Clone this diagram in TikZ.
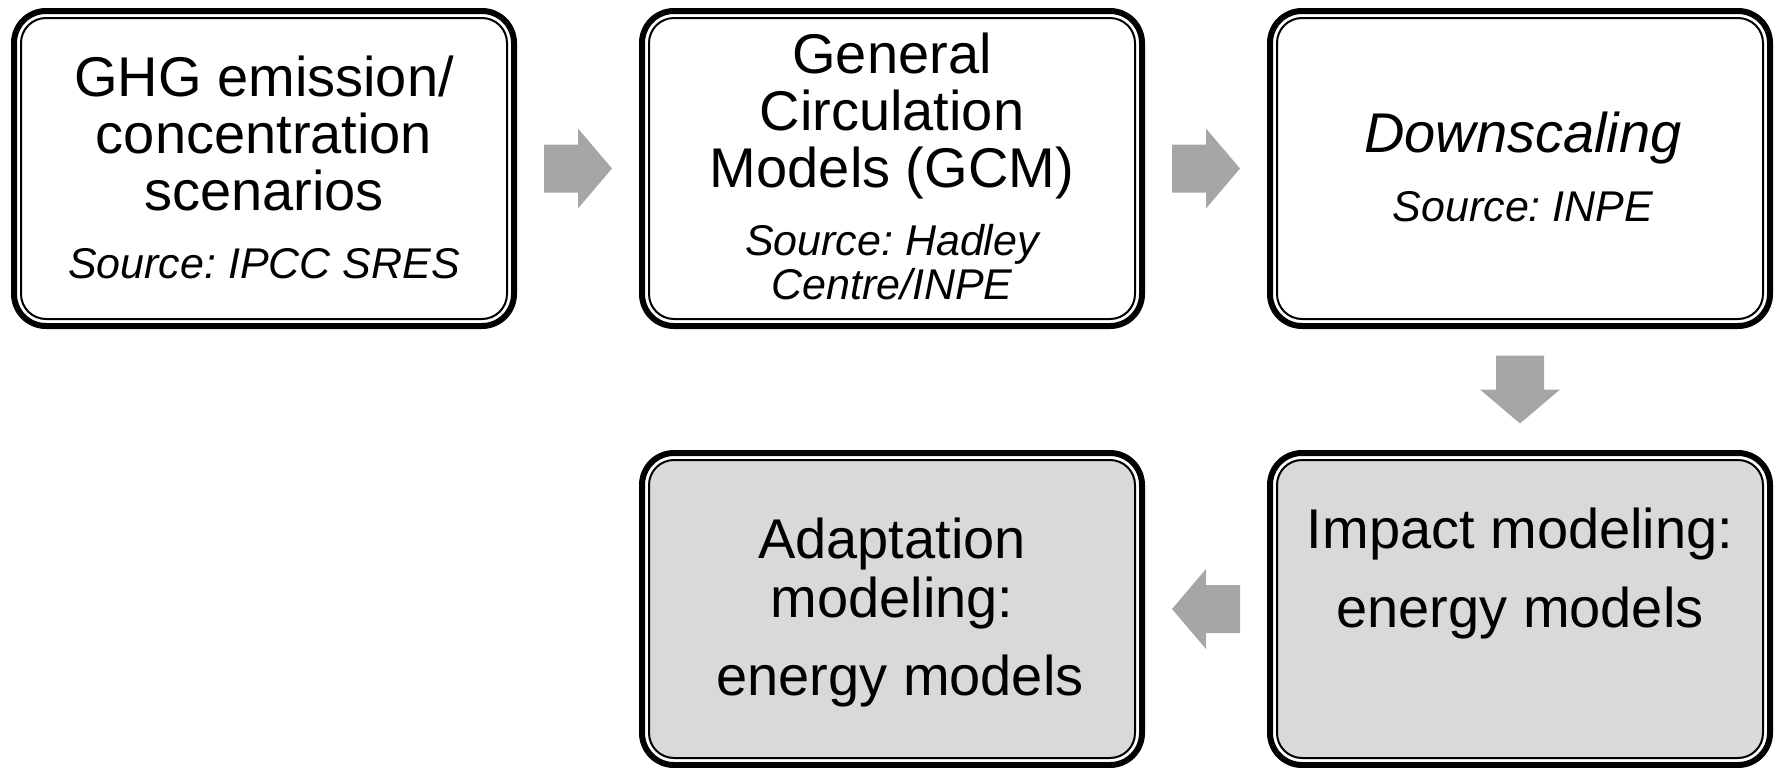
\documentclass[tikz,border=0pt]{standalone}
\usepackage{fontspec}
\setmainfont{Liberation Sans}
\usetikzlibrary{calc}
\definecolor{arrowgray}{RGB}{166,166,166}
\definecolor{boxgray}{RGB}{217,217,217}
\frenchspacing

\begin{document}
\begin{tikzpicture}[x=0.5pt,y=-0.5pt,
  box/.style={draw=black, line width=3pt, rounded corners=16pt, outer sep=0pt,
    minimum width=250pt, minimum height=157.5pt, inner sep=0pt, fill=white},
  lowbox/.style={box, minimum height=156pt},
  innerframe/.style={draw=black, line width=1pt, rounded corners=12.5pt},
  title/.style={font=\fontsize{28}{29}\selectfont, anchor=base, inner sep=0pt},
  source/.style={font=\fontsize{21.5}{22}\selectfont\itshape, anchor=base, inner sep=0pt},
  pics/blockarrow/.style={code={
    \fill[arrowgray] (-34,-24) -- (0,-24) -- (0,-40) -- (34,0) -- (0,40)
      -- (0,24) -- (-34,24) -- cycle;}}
]
\useasboundingbox (0,0) rectangle (1779,767);

% boxes (thick outer border)
\node[box]    (b1) at (264,168.5) {};
\node[box]    (b2) at (892,168.5) {};
\node[box]    (b3) at (1520,168.5) {};
\node[lowbox] (b4) at (892,609) {};
\node[lowbox] (b5) at (1520,609) {};

% thin inner border of each box
\foreach \b in {b1,b2,b3}
  \draw[innerframe] ($(\b.north west)+(7,7)$) rectangle ($(\b.south east)+(-7,-7)$);
\foreach \b in {b4,b5}
  \draw[innerframe, fill=boxgray] ($(\b.north west)+(7,7)$) rectangle ($(\b.south east)+(-7,-7)$);

% block arrows between the boxes
\pic at ($(b1.east)!0.5!(b2.west)$) {blockarrow};
\pic at ($(b2.east)!0.5!(b3.west)$) {blockarrow};
\pic[rotate=-90] at ($(b3.south)!0.5!(b5.north)$) {blockarrow};
\pic[rotate=180] at ($(b5.west)!0.5!(b4.east)$) {blockarrow};

% box texts
\node[title]  (t1a) at (264,96)  {GHG emission/};
\node[title]  (t1b) at (264,153) {concentration};
\node[title]  (t1c) at (264,210) {scenarios};
\node[source] (s1)  at (264,278) {Source: IPCC SRES};

\node[title]  (t2a) at (892,73)  {General};
\node[title]  (t2b) at (892,130) {Circulation};
\node[title]  (t2c) at (892,187) {Models (GCM)};
\node[source] (s2a) at (892,255) {Source: Hadley};
\node[source] (s2b) at (892,299) {Centre/INPE};

\node[title, font=\fontsize{28}{29}\selectfont\itshape] (t3) at (1523,152) {Downscaling};
\node[source] (s3) at (1523,221) {Source: INPE};

\node[title] (t4a) at (892,558) {Adaptation};
\node[title] (t4b) at (892,617) {modeling:};
\node[title] (t4c) at (900,695) {energy models};

\node[title] (t5a) at (1520,548) {Impact modeling:};
\node[title] (t5b) at (1520,627) {energy models};
\end{tikzpicture}
\end{document}
